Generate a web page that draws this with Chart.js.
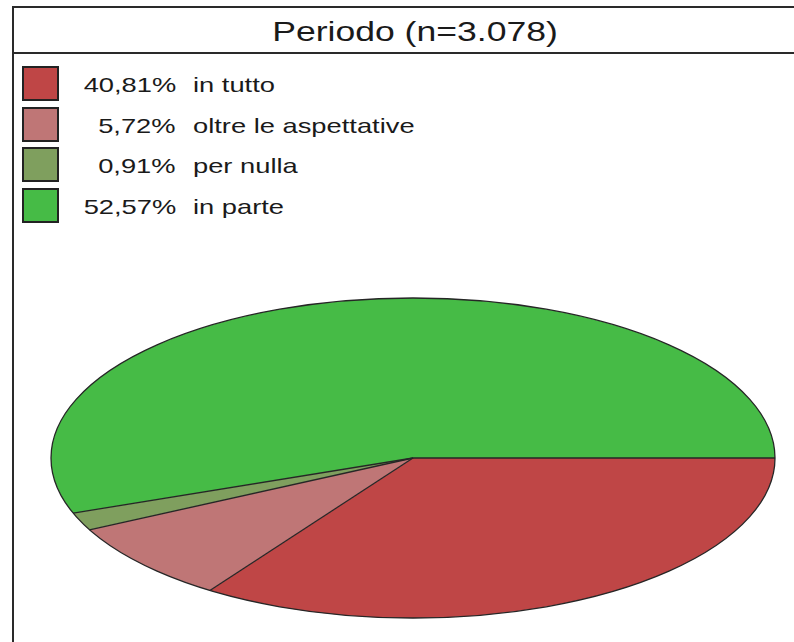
<!DOCTYPE html>
<html>
<head>
<meta charset="utf-8">
<script src="https://cdn.jsdelivr.net/npm/chart.js@4/dist/chart.umd.min.js"></script>
<style>
  html, body { margin: 0; padding: 0; background: #fff; width: 794px; height: 642px; overflow: hidden; }
  body { position: relative; font-family: "Liberation Sans", Arial, sans-serif; color: #1a1a1a; }
  #frame { position: absolute; left: 12px; top: 6px; width: 800px; height: 700px;
           border-left: 2px solid #2a2a2a; border-top: 2px solid #2a2a2a; }
  #titlebar { position: absolute; left: 12px; top: 52px; width: 800px; height: 2px; background: #2a2a2a; }
  #title { position: absolute; left: 415px; top: 18px; font-size: 28px; line-height: 28px;
           white-space: nowrap; transform: translateX(-50%) scaleX(1.27); }
  .sq { position: absolute; left: 22px; width: 37px; height: 35px; box-sizing: border-box; border: 2px solid #222; }
  .pct { position: absolute; right: 618px; font-size: 21px; line-height: 21px; white-space: nowrap;
         transform-origin: right center; transform: scaleX(1.3); }
  .lbl { position: absolute; left: 193px; font-size: 21px; line-height: 21px; white-space: nowrap;
         transform-origin: left center; transform: scaleX(1.3); }
  #pie { position: absolute; left: 0; top: 0; }
</style>
</head>
<body>
<div id="frame"></div>
<div id="titlebar"></div>
<div id="title">Periodo (n=3.078)</div>
<div id="legend"></div>
<canvas id="pie" width="794" height="940" style="width:794px;height:940px"></canvas>
<script>
	"use strict";

	// data
	var labels = ['in tutto', 'oltre le aspettative', 'per nulla', 'in parte'];
	var percents = [40.81, 5.72, 0.91, 52.57];
	var colors = ['#bf4646', '#bf7676', '#7f9f5e', '#46bb46'];

	var ELLIPSE_RATIO = 0.442; // height / width of the flattened pie

	// legend, built from the arrays
	var legend = document.getElementById('legend');
	labels.forEach(function (label, i) {
		var top = 66 + i * 40.5;
		var sq = document.createElement('div');
		sq.className = 'sq';
		sq.style.top = top + 'px';
		sq.style.background = colors[i];
		legend.appendChild(sq);

		var pct = document.createElement('div');
		pct.className = 'pct';
		pct.style.top = (top + 8) + 'px';
		pct.textContent = percents[i].toFixed(2).replace('.', ',') + '%';
		legend.appendChild(pct);

		var lbl = document.createElement('div');
		lbl.className = 'lbl';
		lbl.style.top = (top + 8) + 'px';
		lbl.textContent = label;
		legend.appendChild(lbl);
	});

	// screen angle on the ellipse -> angle on the circle before squashing
	function squash(a) {
		var b = Math.atan2(Math.sin(a), ELLIPSE_RATIO * Math.cos(a));
		var d = b - a;
		d = d - 2 * Math.PI * Math.round(d / (2 * Math.PI));
		return a + d;
	}

	const ellipse = {
		id: 'flat_pie',
		afterDatasetsUpdate: (chart) => {
			chart.getDatasetMeta(0).data.forEach(function (arc) {
				arc.startAngle = squash(arc.startAngle);
				arc.endAngle = squash(arc.endAngle);
				arc.circumference = arc.endAngle - arc.startAngle;
			});
		},
		beforeDatasetsDraw: (chart) => {
			const arc = chart.getDatasetMeta(0).data[0];
			const ctx = chart.ctx;
			ctx.save();
			ctx.translate(arc.x, arc.y);
			ctx.scale(1, ELLIPSE_RATIO);
			ctx.translate(-arc.x, -arc.y);
		},
		afterDatasetsDraw: (chart) => {
			const ctx = chart.ctx;
			ctx.restore();
			const arcs = chart.getDatasetMeta(0).data;
			const cx = arcs[0].x, cy = arcs[0].y, r = arcs[0].outerRadius;
			ctx.save();
			ctx.strokeStyle = '#262626';
			ctx.lineWidth = 1.3;
			arcs.forEach(function (arc) {
				ctx.beginPath();
				ctx.moveTo(cx, cy);
				ctx.lineTo(cx + r * Math.cos(arc.startAngle), cy + r * ELLIPSE_RATIO * Math.sin(arc.startAngle));
				ctx.stroke();
			});
			ctx.beginPath();
			ctx.ellipse(cx, cy, r, r * ELLIPSE_RATIO, 0, 0, 2 * Math.PI);
			ctx.stroke();
			ctx.restore();
		}
	};

	var ctx = document.getElementById('pie').getContext('2d');
	new Chart(ctx, {
		type: 'pie',
		data: {
			labels: labels,
			datasets: [{
				data: percents,
				backgroundColor: colors,
				borderWidth: 0
			}]
		},
		options: {
			responsive: false,
			animation: false,
			events: [],
			rotation: 90,
			layout: { padding: { top: 96, bottom: 120, left: 51, right: 19 } },
			plugins: {
				legend: { display: false },
				tooltip: { enabled: false },
				title: { display: false }
			}
		},
		plugins: [ellipse]
	});
</script>
</body>
</html>
